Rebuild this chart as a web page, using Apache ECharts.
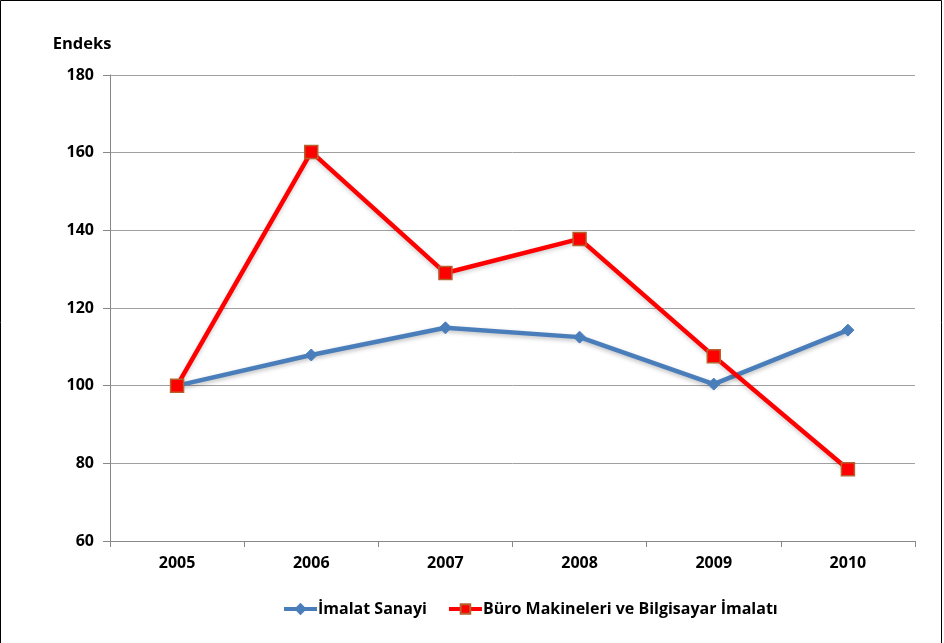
<!DOCTYPE html>
<html><head><meta charset="utf-8">
<script src="https://cdn.jsdelivr.net/npm/echarts@6/dist/echarts.min.js"></script>
<style>html,body{margin:0;padding:0;background:#fff;}#c{width:944px;height:643px;}</style>
</head><body><div id="c"></div>
<script>
const categories = ['2005','2006','2007','2008','2009','2010'];
const imalatSanayi = [100, 107.9, 114.9, 112.5, 100.4, 114.3];
const buroMakineleri = [100, 160.2, 129, 137.8, 107.6, 78.5];
const yTicks = {min: 60, max: 180, interval: 20};
const FONT = '"Open Sans", "DejaVu Sans", sans-serif';
const chart = echarts.init(document.getElementById('c'));
chart.setOption({
  animation: false,
  graphic: [{type:'rect', shape:{x:0.5,y:0.5,width:941,height:660}, style:{fill:'none', stroke:'#000', lineWidth:1}}],
  grid: {left: 110, right: 29, top: 75, bottom: 102},
  xAxis: {
    type: 'category', data: categories, boundaryGap: true,
    axisLine: {lineStyle: {color: '#888', width: 1}},
    axisTick: {show: true, alignWithLabel: false, length: 6, lineStyle: {color: '#888'}},
    axisLabel: {fontFamily: FONT, fontWeight: 'bold', fontSize: 16, color: '#000', margin: 14}
  },
  yAxis: {
    type: 'value', min: yTicks.min, max: yTicks.max, interval: yTicks.interval,
    name: 'Endeks', nameLocation: 'end', nameGap: 22,
    nameTextStyle: {fontFamily: FONT, fontWeight: 'bold', fontSize: 16.5, color: '#000', align: 'center', padding: [0, 0, 0, -56]},
    axisLine: {show: true, lineStyle: {color: '#888'}},
    axisTick: {show: true, length: 7, lineStyle: {color: '#888'}},
    splitLine: {lineStyle: {color: '#a0a0a0', width: 1}},
    axisLabel: {fontFamily: FONT, fontWeight: 'bold', fontSize: 16, color: '#000', margin: 16}
  },
  legend: {
    bottom: 21, left: 277, itemWidth: 33, itemHeight: 12, itemGap: 20,
    lineStyle: {width: 4},
    textStyle: {fontFamily: FONT, fontWeight: 'bold', fontSize: 16, color: '#000', padding: [0, 0, 0, -4]},
    data: [{name: 'İmalat Sanayi'}, {name: 'Büro Makineleri ve Bilgisayar İmalatı'}]
  },
  series: [
    {
      name: 'İmalat Sanayi', type: 'line', data: imalatSanayi,
      symbol: 'diamond', symbolSize: 12,
      lineStyle: {color: '#4a7ebb', width: 4.5, shadowColor: 'rgba(0,0,0,0.25)', shadowBlur: 4, shadowOffsetY: 2},
      itemStyle: {color: '#4a7ebb', borderColor: '#4a7ebb', borderWidth: 1}
    },
    {
      name: 'Büro Makineleri ve Bilgisayar İmalatı', type: 'line', data: buroMakineleri,
      symbol: 'rect', symbolSize: 13,
      lineStyle: {color: '#ff0000', width: 4.5, shadowColor: 'rgba(0,0,0,0.2)', shadowBlur: 4, shadowOffsetY: 2},
      itemStyle: {color: '#ff0000', borderColor: '#b5622f', borderWidth: 1.5}
    }
  ]
});
</script></body></html>
